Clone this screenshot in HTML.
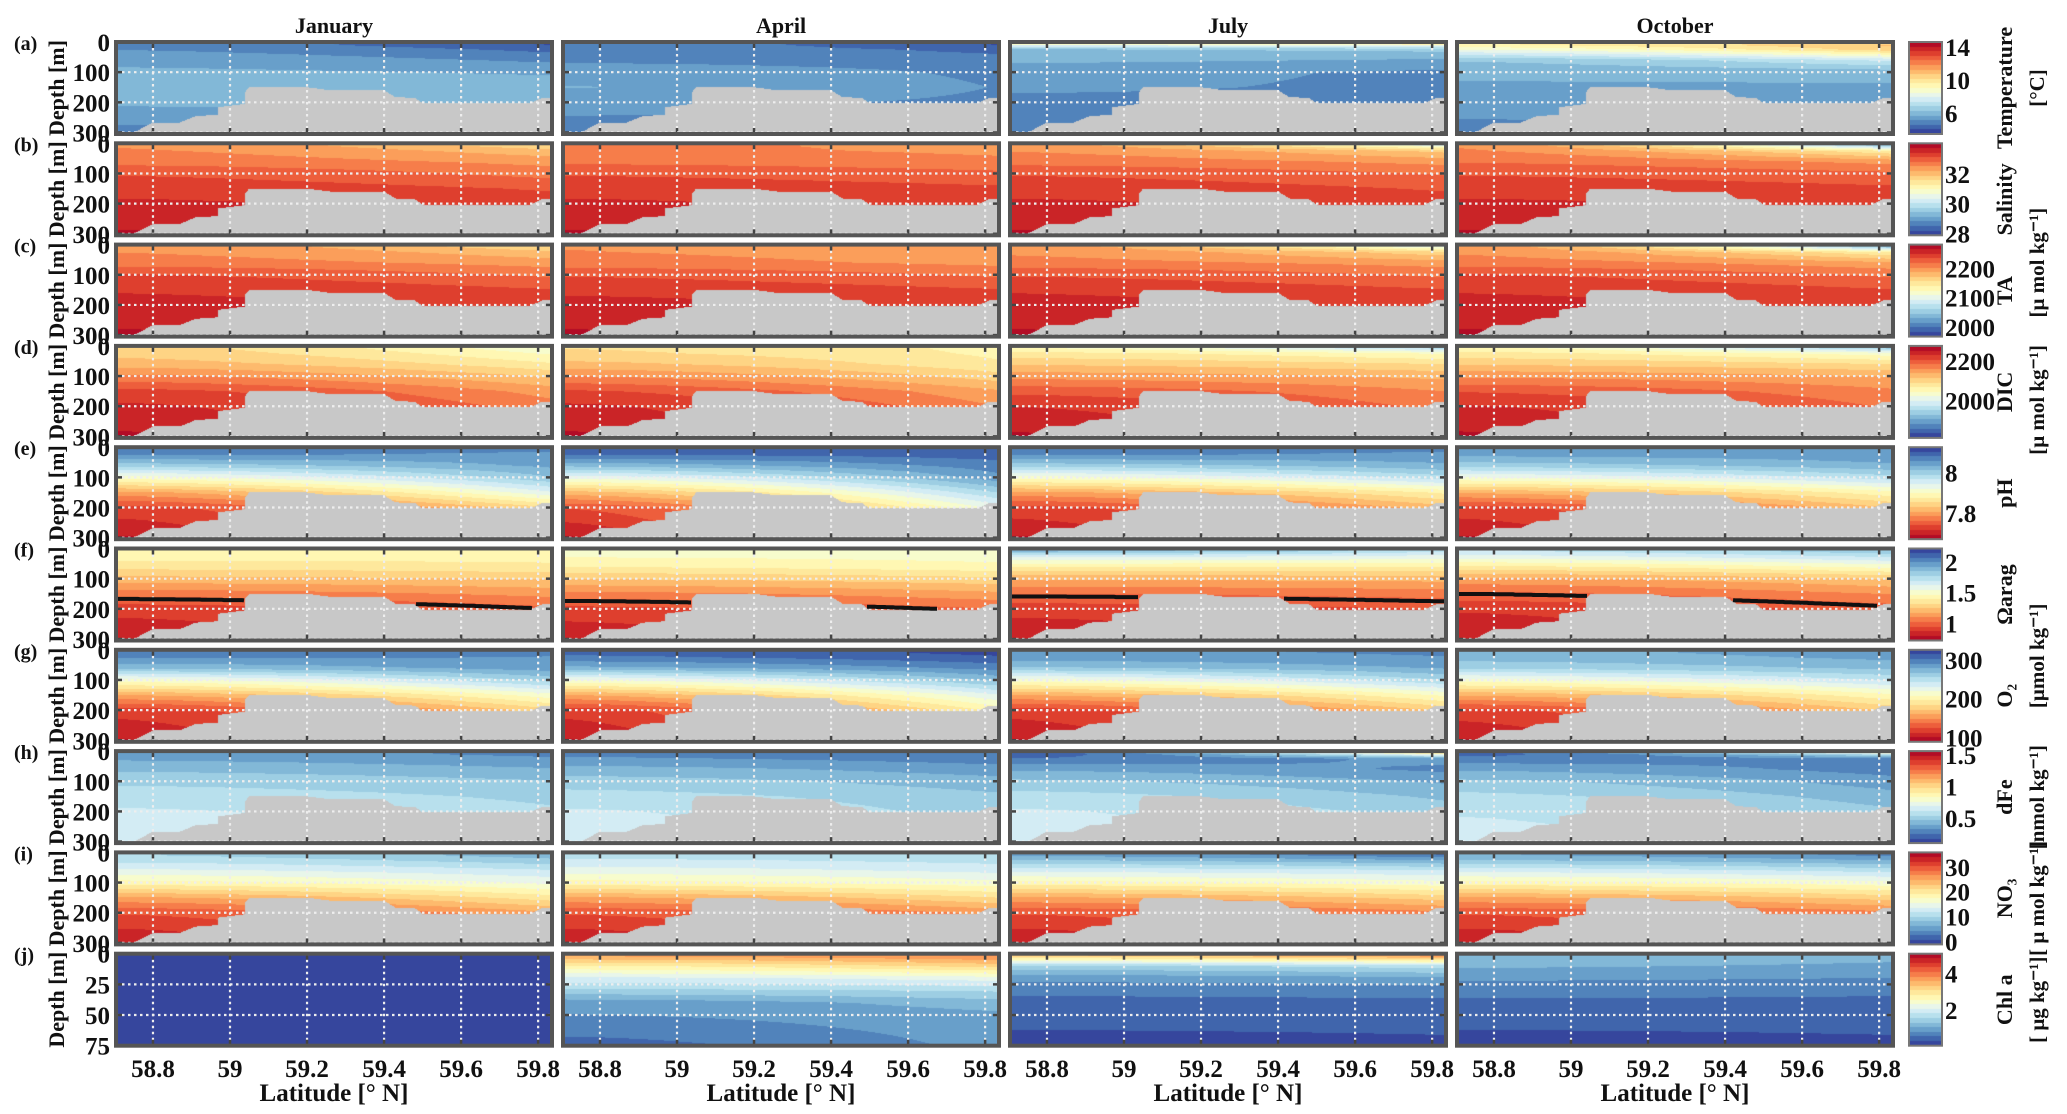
<!DOCTYPE html>
<html><head><meta charset="utf-8">
<style>
html,body{margin:0;padding:0;background:#fff;}
#wrap{position:relative;width:2067px;height:1114px;overflow:hidden;}
#cv,#ov{position:absolute;left:0;top:0;}
text{font-family:"Liberation Serif",serif;font-weight:bold;fill:#111;}
</style></head>
<body>
<div id="wrap">
<canvas id="cv" width="2067" height="1114"></canvas>
<svg id="ov" width="2067" height="1114" xmlns="http://www.w3.org/2000/svg"></svg>
</div>
<script>
// ---------- data ----------
const months = ["January","April","July","October"];
const panelLetters = ["(a)","(b)","(c)","(d)","(e)","(f)","(g)","(h)","(i)","(j)"];
const latTicks = [58.8,59.0,59.2,59.4,59.6,59.8];
const latTickLabels = ["58.8","59","59.2","59.4","59.6","59.8"];
const depthTicks = [0,100,200,300];
const chlDepthTicks = [0,25,50,75];
const depthLevels = [0,10,25,60,100,150,200,300];
const chlDepthLevels = [0,10,20,30,40,50,75];
const bathyLat = [58.70,58.75,58.80,58.87,58.91,58.97,58.97,59.04,59.04,59.05,59.20,59.26,59.40,59.43,59.48,59.50,59.78,59.81,59.84];
const bathyDepth = [320,300,267,267,246,241,216,205,165,150,150,160,160,183,185,203,203,185,185];

const tempLeft  = [[4.9,4.9,5.1,5.5,5.8,5.9,5.8,4.9],[4.9,4.9,4.9,5.0,5.5,5.7,5.3,4.9],[11.5,8,6.2,5.8,5.3,5.2,5.0,4.6],[9.6,9.5,8.5,6.3,5.8,5.6,5.4,4.9]];
const tempRight = [[3.9,4.0,4.4,5.0,5.6,6.0,5.9,5.8],[3.9,4.0,4.4,4.8,5.0,5.1,5.0,5.0],[12,8.5,6.4,5.6,5.0,5.0,5.0,5.0],[10.2,10.8,10.5,7.5,5.9,5.6,5.3,5.3]];
const salLeft  = [[32.5,32.5,32.55,32.7,33.1,33.35,33.5,33.8],[32.6,32.6,32.6,32.75,33.1,33.35,33.5,33.8],[32.4,32.4,32.5,32.7,33.1,33.35,33.5,33.8],[32.5,32.5,32.55,32.8,33.1,33.35,33.5,33.8]];
const salRight = [[31.5,31.7,32.0,32.4,32.7,33.1,33.3,33.3],[32.4,32.4,32.45,32.6,32.9,33.2,33.3,33.3],[29.5,30.8,31.8,32.4,32.8,33.1,33.3,33.3],[28.5,29.8,31.3,32.4,32.9,33.2,33.35,33.35]];
const taLeft  = [[2200,2200,2202,2210,2235,2248,2255,2268],[2202,2202,2203,2208,2232,2246,2255,2268],[2195,2198,2200,2208,2232,2248,2255,2268],[2198,2198,2200,2210,2235,2248,2255,2268]];
const taRight = [[2150,2160,2175,2195,2215,2235,2245,2245],[2185,2188,2192,2198,2215,2235,2245,2245],[2060,2110,2160,2195,2215,2235,2245,2245],[2000,2060,2140,2190,2215,2235,2245,2245]];
const dicLeft  = [[2100,2100,2105,2125,2165,2215,2235,2258],[2090,2090,2095,2120,2160,2210,2235,2258],[2030,2050,2075,2110,2150,2200,2230,2258],[2045,2055,2075,2110,2155,2205,2232,2258]];
const dicRight = [[2020,2025,2040,2070,2110,2150,2170,2170],[2060,2060,2062,2070,2100,2140,2160,2160],[1900,1980,2040,2090,2130,2160,2175,2175],[1870,1960,2030,2090,2135,2165,2180,2180]];
const phLeft  = [[8.07,8.07,8.06,8.0,7.91,7.8,7.73,7.69],[8.09,8.09,8.08,8.02,7.93,7.82,7.74,7.69],[8.08,8.07,8.06,8.0,7.91,7.8,7.73,7.69],[8.04,8.04,8.04,8.0,7.92,7.81,7.73,7.69]];
const phRight = [[8.06,8.06,8.05,8.04,8.01,7.94,7.85,7.85],[8.1,8.1,8.09,8.07,8.05,7.99,7.93,7.93],[8.07,8.06,8.05,8.03,7.98,7.88,7.82,7.82],[8.05,8.05,8.05,8.03,7.98,7.89,7.83,7.83]];
const omLeft  = [[1.45,1.45,1.43,1.35,1.22,1.05,0.9,0.8],[1.5,1.5,1.48,1.4,1.25,1.07,0.92,0.8],[1.95,1.85,1.65,1.4,1.18,1.02,0.9,0.8],[1.7,1.68,1.6,1.38,1.15,1.0,0.88,0.8]];
const omRight = [[1.42,1.42,1.42,1.38,1.25,1.12,1.0,1.0],[1.55,1.52,1.5,1.45,1.3,1.15,1.02,1.02],[1.75,1.7,1.6,1.4,1.2,1.05,0.95,0.95],[1.85,1.82,1.72,1.5,1.25,1.1,0.98,0.98]];
const o2Left  = [[295,295,292,270,215,160,118,100],[305,305,300,275,218,160,118,100],[290,288,285,265,215,160,118,100],[275,275,272,258,215,162,120,100]];
const o2Right = [[292,292,290,285,260,215,180,180],[318,318,312,295,270,230,200,200],[292,292,290,280,255,210,175,175],[285,285,282,270,245,205,175,175]];
const feLeft  = [[0.35,0.35,0.38,0.45,0.52,0.58,0.62,0.68],[0.3,0.3,0.33,0.42,0.5,0.57,0.62,0.68],[0.18,0.2,0.25,0.38,0.48,0.57,0.62,0.68],[0.2,0.22,0.27,0.38,0.48,0.56,0.6,0.66]];
const feRight = [[0.3,0.3,0.33,0.4,0.47,0.52,0.55,0.55],[0.25,0.25,0.28,0.35,0.42,0.48,0.5,0.5],[1.3,0.8,0.35,0.3,0.38,0.45,0.5,0.5],[1.2,0.6,0.3,0.28,0.35,0.42,0.48,0.48]];
const no3Left  = [[10,10,11,14,18,25,30,34],[11,11,12,14.5,18,25,30,34],[5,6,8,13,18,25,30,34],[6,6.5,8,13,18,25,30,34]];
const no3Right = [[7,7,8.5,12,15,20,25,25],[10,10,11,13,16,21,26,26],[1,3,6,12,16,22,27,27],[3,4,6,11,16,22,27,27]];
const chlLeft  = [[0.1,0.1,0.1,0.1,0.1,0.1,0.1],[3.8,2.8,2.0,1.5,0.9,0.8,0.45],[3.6,1.5,0.9,0.6,0.5,0.4,0.2],[1.3,1.1,0.85,0.65,0.5,0.4,0.2]];
const chlRight = [[0.1,0.1,0.1,0.1,0.1,0.1,0.1],[4.0,3.2,2.2,1.6,1.2,1.0,0.9],[4.2,1.7,1.0,0.65,0.5,0.4,0.25],[1.2,1.0,0.8,0.6,0.5,0.4,0.25]];

const varMin = [3.45,27.87,1967,1810,7.67,0.72,89,0.1,-1.2,0.05];
const varMax = [14.6,34.07,2281,2277,8.125,2.22,326,1.56,35.8,5.1];
const varRev = [false,false,false,false,true,true,true,false,false,false];
const cbTicks = [[6,10,14],[28,30,32],[2000,2100,2200],[2000,2200],[7.8,8],[1,1.5,2],[100,200,300],[0.5,1,1.5],[0,10,20,30],[2,4]];
const cbTickLabels = [["6","10","14"],["28","30","32"],["2000","2100","2200"],["2000","2200"],["7.8","8"],["1","1.5","2"],["100","200","300"],["0.5","1","1.5"],["0","10","20","30"],["2","4"]];
const allLeft = [tempLeft,salLeft,taLeft,dicLeft,phLeft,omLeft,o2Left,feLeft,no3Left,chlLeft];
const allRight = [tempRight,salRight,taRight,dicRight,phRight,omRight,o2Right,feRight,no3Right,chlRight];

// ---------- layout ----------
const LAT0=58.704, LAT1=59.836;
const PW=436, PH=92;
function colLeft(c){return 116+447*c;}
function rowTop(r){return 42+101.3*r;}
function xOf(c,lat){return colLeft(c)+(lat-LAT0)/(LAT1-LAT0)*PW;}
function latOf(c,x){return LAT0+(x-colLeft(c))/PW*(LAT1-LAT0);}
function dMax(r){return r===9?75:305;}
function yOf(r,d){return rowTop(r)+d/dMax(r)*PH;}
function depthOf(r,y){return (y-rowTop(r))/PH*dMax(r);}

const cmStops=[[49,54,149],[69,117,180],[116,173,209],[171,217,233],[224,243,248],[255,255,191],[254,224,144],[253,174,97],[244,109,67],[215,48,39],[165,0,38]];
function cmap(t){t=Math.max(0,Math.min(0.9999,t));const s=t*10,i=Math.floor(s),f=s-i;const a=cmStops[i],b=cmStops[i+1];return [a[0]+(b[0]-a[0])*f,a[1]+(b[1]-a[1])*f,a[2]+(b[2]-a[2])*f];}
function normT(v,vi){let t=(v-varMin[vi])/(varMax[vi]-varMin[vi]);if(varRev[vi])t=1-t;return (Math.floor(Math.max(0,Math.min(0.9999,t))*20)+0.5)/20;}
function interp(xs,ys,x){if(x<=xs[0])return ys[0];for(let i=1;i<xs.length;i++){if(x<=xs[i]){const f=(x-xs[i-1])/((xs[i]-xs[i-1])||1);return ys[i-1]+(ys[i]-ys[i-1])*f;}}return ys[ys.length-1];}
function bathy(lat){return interp(bathyLat,bathyDepth,lat);}
function field(vi,m,lat,d){const lv=vi===9?chlDepthLevels:depthLevels;const a=interp(lv,allLeft[vi][m],d),b=interp(lv,allRight[vi][m],d);let w=(lat-LAT0)/(LAT1-LAT0);w=Math.max(0,Math.min(1,w));w=Math.pow(w,1.5);return a+(b-a)*w;}

// ---------- draw fields ----------
const cv=document.getElementById('cv');const ctx=cv.getContext('2d');
ctx.fillStyle='#fff';ctx.fillRect(0,0,2067,1114);
const img=ctx.getImageData(0,0,2067,1114);const px=img.data;
for(let r=0;r<10;r++){for(let c=0;c<4;c++){
  const y0=Math.round(rowTop(r)),x0=colLeft(c);
  for(let y=y0;y<y0+PH;y++){const d=depthOf(r,y+0.5);
    for(let x=x0;x<x0+PW;x++){const lat=latOf(c,x+0.5);let col;
      if(r<9&&d>bathy(lat))col=[200,200,200];else col=cmap(normT(field(r,c,lat,d),r));
      const k=(y*2067+x)*4;px[k]=col[0];px[k+1]=col[1];px[k+2]=col[2];px[k+3]=255;}}
}
  const cy0=Math.round(rowTop(r));
  for(let y=cy0;y<cy0+PH;y++){const v=varMax[r]-(y+0.5-rowTop(r))/PH*(varMax[r]-varMin[r]);const col=cmap(normT(v,r));
    for(let x=1909;x<1942;x++){const k=(y*2067+x)*4;px[k]=col[0];px[k+1]=col[1];px[k+2]=col[2];px[k+3]=255;}}
}
ctx.putImageData(img,0,0);

// ---------- overlay ----------
const NS='http://www.w3.org/2000/svg';const ov=document.getElementById('ov');
function mk(tag,attrs,parent){const e=document.createElementNS(NS,tag);for(const k in attrs)e.setAttribute(k,attrs[k]);(parent||ov).appendChild(e);return e;}
function txt(s,x,y,size,anchor,parent){const t=mk('text',{x:x,y:y,'font-size':size,'text-anchor':anchor||'middle'},parent);t.textContent=s;return t;}

for(let r=0;r<10;r++){
  for(let c=0;c<4;c++){
    const g=mk('g',{});
    
    
    const top=rowTop(r),left=colLeft(c);
    const dts=r===9?chlDepthTicks:depthTicks;
    for(const lt of latTicks){const x=xOf(c,lt);
      const l=mk('line',{x1:x,x2:x,y1:top,y2:top+PH,stroke:'#eee','stroke-width':2.2,'stroke-dasharray':'2.5 3.5'},g);
      
      mk('line',{x1:x,x2:x,y1:top,y2:top+6,stroke:'#444','stroke-width':2.5},g);
      mk('line',{x1:x,x2:x,y1:top+PH-6,y2:top+PH,stroke:'#444','stroke-width':2.5},g);}
    for(const dt of dts){if(dt===0||dt>=dMax(r))continue;const y=yOf(r,dt);
      const l=mk('line',{x1:left,x2:left+PW,y1:y,y2:y,stroke:'#eee','stroke-width':2.2,'stroke-dasharray':'2.5 3.5'},g);
      
      mk('line',{x1:left,x2:left+6,y1:y,y2:y,stroke:'#444','stroke-width':2.5},g);
      mk('line',{x1:left+PW-6,x2:left+PW,y1:y,y2:y,stroke:'#444','stroke-width':2.5},g);}
    if(r===5){let pts=[];const segs=[];
      for(let x=left;x<left+PW;x+=2){const lat=latOf(c,x);let found=null;
        for(let d=0;d<305;d+=1){if(field(5,c,lat,d)<=1.0){found=d;break;}}
        if(found!==null&&found<bathy(lat)-2){pts.push(x.toFixed(1)+','+yOf(r,found).toFixed(1));}
        else{if(pts.length>1)segs.push(pts);pts=[];}}
      if(pts.length>1)segs.push(pts);
      for(const s of segs){const p=mk('polyline',{points:s.join(' '),fill:'none',stroke:'#111','stroke-width':4},g);
        }}
    const fr=mk('rect',{x:left,y:top,width:PW,height:PH,fill:'none',stroke:'#555','stroke-width':4},g);
    
  }
  const top=rowTop(r);
  const pl=txt(panelLetters[r],14,top+8,20,'start');
  
  const dl=mk('text',{x:0,y:0,'font-size':22,'text-anchor':'middle',transform:'translate(64,'+(top+PH/2)+') rotate(-90)'});
  dl.textContent='Depth [m]';
  
  const dts=r===9?chlDepthTicks:depthTicks;
  for(const dt of dts){const t=txt(String(dt),110,yOf(r,dt)+9,25,'end');
    }
  const cb=mk('rect',{x:1909,y:top,width:33,height:PH,fill:'none',stroke:'#777','stroke-width':2});
  
  cbTicks[r].forEach((v,i)=>{const y=top+(varMax[r]-v)/(varMax[r]-varMin[r])*PH;
    const t=txt(cbTickLabels[r][i],1945,y+9,25,'start');
    });
}
for(let c=0;c<4;c++){const cx=colLeft(c)+PW/2;
  const t=txt(months[c],cx,33,22);
  latTicks.forEach((lt,i)=>{const l=txt(latTickLabels[i],xOf(c,lt),1077,25);
    });
  const xl=txt('Latitude [° N]',cx,1101,25);
}
const cbLabels=[["Temperature","[°C]"],["Salinity",""],["TA","[μ mol kg⁻¹]"],["DIC","[μ mol kg⁻¹]"],["pH",""],["Ωarag",""],["O₂","[μmol kg⁻¹]"],["dFe","[nmol kg⁻¹]"],["NO₃","[ μ mol kg⁻¹]"],["Chl a","[ μg kg⁻¹]"]];
const cbTitleOff=[0,10,0,0,0,0,0,0,0,0];
const cbOff=[0,0,-28,8,0,0,-40,0,0,0];
cbLabels.forEach((p,r)=>{const cy=rowTop(r)+PH/2;
  const a=mk('text',{x:0,y:0,'font-size':22,'text-anchor':'middle',transform:'translate(2012,'+(cy+cbTitleOff[r])+') rotate(-90)'});a.textContent=p[0];
  
  if(p[1]){const b=mk('text',{x:0,y:0,'font-size':21,'text-anchor':'middle',transform:'translate(2044,'+(cy+cbOff[r])+') rotate(-90)'});b.textContent=p[1];
    }
});
</script>
</body></html>
